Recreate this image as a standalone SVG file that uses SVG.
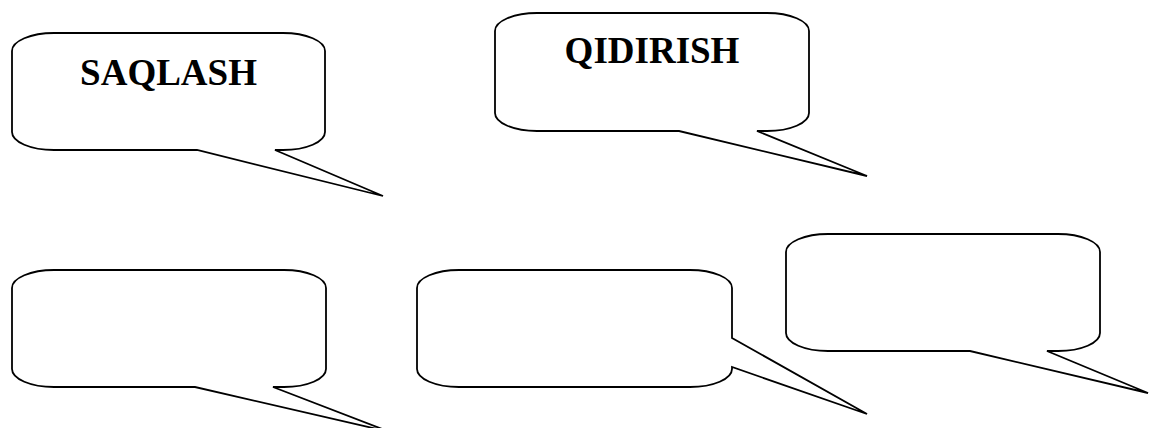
<svg xmlns="http://www.w3.org/2000/svg" width="1150" height="428" viewBox="0 0 1150 428">
<style>
.c{fill:#fff;stroke:#000;stroke-width:1.8;stroke-linejoin:miter}
.t{font-family:"Liberation Serif","Times New Roman",serif;font-weight:bold;font-size:37px;text-anchor:middle;fill:#000}
</style>
<rect width="1150" height="428" fill="#fff"/>
<g id="callout-saqlash">
<path class="c" d="M54,33 H283 A42 18 0 0 1 325,51 V132 A42 18 0 0 1 283,150 H275 L383,196 L197,150 H54 A42 18 0 0 1 12,132 V51 A42 18 0 0 1 54,33 Z"/>
<text class="t" x="168.5" y="85">SAQLASH</text>
</g>
<g id="callout-qidirish">
<path class="c" d="M537,13 H767 A42 18 0 0 1 809,31 V113 A42 18 0 0 1 767,131 H757 L867,176 L679,131 H537 A42 18 0 0 1 495,113 V31 A42 18 0 0 1 537,13 Z"/>
<text class="t" x="652" y="63">QIDIRISH</text>
</g>
<g id="callout-3">
<path class="c" d="M54,270 H284 A42 18 0 0 1 326,288 V369 A42 18 0 0 1 284,387 H273 L390,432 L195,387 H54 A42 18 0 0 1 12,369 V288 A42 18 0 0 1 54,270 Z"/>
</g>
<g id="callout-4">
<path class="c" d="M459,270 H690 A42 18 0 0 1 732,288 V338 L867,414 L732,367 V369 A42 18 0 0 1 690,387 H459 A42 18 0 0 1 417,369 V288 A42 18 0 0 1 459,270 Z"/>
</g>
<g id="callout-5">
<path class="c" d="M828,234 H1058 A42 18 0 0 1 1100,252 V333 A42 18 0 0 1 1058,351 H1047 L1148,393 L970,351 H828 A42 18 0 0 1 786,333 V252 A42 18 0 0 1 828,234 Z"/>
</g>
<g id="connectors"></g>
</svg>
